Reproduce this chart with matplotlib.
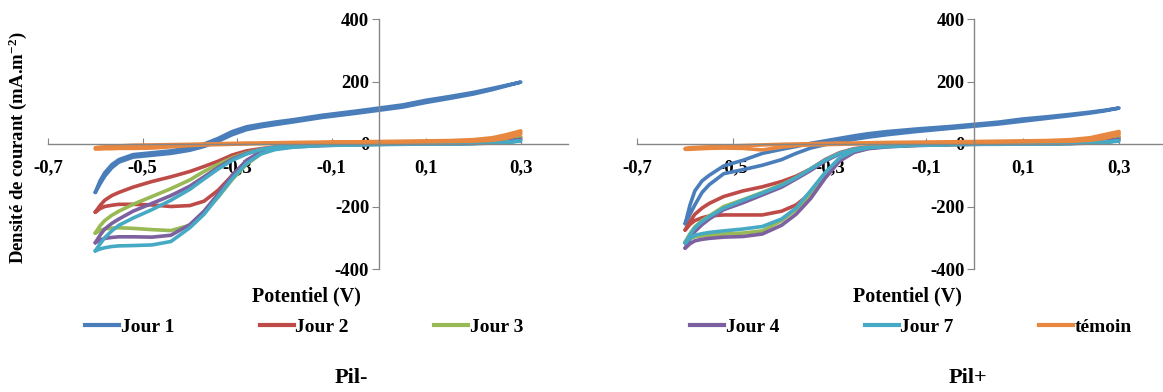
import matplotlib
matplotlib.use("Agg")
import matplotlib.pyplot as plt
from matplotlib.lines import Line2D

plt.rcParams['font.family'] = ['Liberation Serif', 'DejaVu Serif']
plt.rcParams['font.weight'] = 'bold'
plt.rcParams['mathtext.fontset'] = 'custom'
plt.rcParams['mathtext.rm'] = 'Liberation Serif:bold'
plt.rcParams['mathtext.it'] = 'Liberation Serif:bold'
plt.rcParams['mathtext.bf'] = 'Liberation Serif:bold'
plt.rcParams['mathtext.default'] = 'rm'

# ---------------- data ----------------
potential = [-0.60, -0.59, -0.58, -0.565, -0.55, -0.52, -0.48, -0.44, -0.40, -0.37, -0.34, -0.31,
             -0.28, -0.25, -0.22, -0.18, -0.12, -0.05, 0.00, 0.05, 0.10, 0.15,
             0.20, 0.24, 0.27, 0.30]

series_names = ['Jour 1', 'Jour 2', 'Jour 3', 'Jour 4', 'Jour 7', 'témoin']
series_colors = ['#4A7EBB', '#BE4B48', '#98B954', '#7D60A0', '#46AAC5', '#E8873F']

# Pil- : upper (a) and lower (b) branches of each voltammogram
pilm_j1_a = [-155, -118, -92, -66, -50, -34, -28, -22, -12, 0, 18, 40, 55, 63, 70, 78, 92, 105, 115, 125, 140, 152, 165, 178, 188, 198]
pilm_j1_b = [-155, -128, -103, -76, -58, -42, -36, -30, -20, -8, 9, 30, 46, 55, 62, 71, 85, 98, 108, 118, 133, 146, 160, 174, 186, 198]
pilm_j2_a = [-218, -197, -180, -165, -155, -138, -120, -105, -88, -72, -55, -35, -22, -15, -9, -5, -2, 0, 1, 2, 3, 4, 6, 9, 14, 22]
pilm_j2_b = [-218, -207, -200, -196, -193, -193, -195, -200, -197, -183, -148, -100, -55, -25, -12, -6, -3, -1, 0, 1, 2, 3, 4, 6, 10, 22]
pilm_j3_a = [-285, -262, -245, -228, -215, -193, -168, -143, -115, -88, -65, -44, -28, -17, -10, -6, -3, -1, 0, 1, 2, 3, 5, 8, 12, 20]
pilm_j3_b = [-285, -277, -272, -269, -268, -270, -274, -277, -260, -220, -170, -113, -65, -32, -15, -8, -4, -2, -1, 0, 1, 2, 3, 5, 9, 20]
pilm_j4_a = [-316, -292, -272, -254, -240, -215, -190, -165, -135, -105, -75, -48, -30, -18, -11, -6, -3, -1, 0, 1, 1, 2, 4, 6, 9, 15]
pilm_j4_b = [-316, -307, -302, -299, -297, -297, -298, -292, -258, -215, -160, -100, -52, -25, -14, -9, -5, -2, -1, 0, 0, 1, 2, 4, 7, 15]
pilm_j7_a = [-342, -320, -300, -278, -260, -237, -210, -180, -145, -112, -80, -52, -32, -18, -10, -6, -3, -1, 0, 0, 1, 1, 2, 4, 6, 10]
pilm_j7_b = [-342, -336, -332, -328, -326, -325, -323, -312, -268, -225, -168, -110, -62, -32, -18, -10, -5, -3, -2, -1, 0, 0, 1, 3, 5, 10]
pilm_tem_a = [-12, -10, -9, -7, -6, -4, -3, -2, -1, 0, 1, 2, 3, 3, 4, 5, 6, 7, 8, 9, 10, 11, 14, 20, 30, 42]
pilm_tem_b = [-16, -16, -15, -15, -14, -14, -13, -9, -5, -3, -2, -1, 0, 1, 2, 3, 4, 5, 6, 6, 7, 8, 9, 12, 18, 32]

# Pil+ : upper (a) and lower (b) branches
pilp_j1_a = [-255, -195, -150, -118, -100, -70, -52, -30, -17, -8, 2, 10, 18, 26, 33, 40, 48, 56, 63, 70, 80, 87, 95, 102, 108, 115]
pilp_j1_b = [-255, -225, -195, -155, -130, -95, -82, -68, -50, -30, -13, -2, 7, 15, 22, 30, 40, 50, 57, 64, 73, 82, 91, 99, 106, 115]
pilp_j2_a = [-275, -248, -225, -205, -190, -168, -150, -137, -120, -103, -80, -50, -28, -15, -9, -5, -2, 0, 1, 2, 3, 4, 6, 9, 14, 22]
pilp_j2_b = [-275, -257, -245, -236, -230, -227, -227, -227, -215, -195, -158, -100, -50, -25, -13, -7, -3, -1, 0, 1, 2, 3, 4, 6, 10, 22]
pilp_j3_a = [-313, -287, -265, -245, -230, -200, -178, -155, -130, -108, -80, -52, -30, -17, -10, -6, -3, -1, 0, 1, 2, 3, 5, 8, 12, 20]
pilp_j3_b = [-313, -303, -297, -294, -292, -288, -285, -278, -245, -210, -160, -100, -52, -25, -14, -8, -4, -2, -1, 0, 1, 2, 3, 5, 9, 20]
pilp_j4_a = [-333, -304, -280, -258, -240, -210, -188, -163, -138, -112, -85, -55, -32, -18, -11, -6, -3, -1, 0, 1, 1, 2, 4, 6, 9, 15]
pilp_j4_b = [-333, -319, -310, -305, -302, -298, -296, -288, -260, -225, -175, -110, -55, -27, -15, -9, -5, -2, -1, 0, 0, 1, 2, 4, 7, 15]
pilp_j7_a = [-317, -290, -268, -248, -232, -205, -180, -157, -132, -108, -80, -52, -30, -17, -10, -6, -3, -1, 0, 0, 1, 1, 2, 4, 6, 10]
pilp_j7_b = [-317, -302, -292, -287, -283, -278, -272, -264, -240, -205, -150, -92, -45, -22, -12, -8, -4, -2, -1, -1, 0, 0, 1, 3, 5, 10]
pilp_tem_a = [-14, -12, -11, -10, -9, -7, -5, -3, -1, 0, 1, 2, 3, 3, 4, 5, 6, 7, 8, 9, 10, 11, 14, 20, 30, 40]
pilp_tem_b = [-17, -17, -16, -15, -14, -13, -14, -19, -10, -5, -3, -2, -1, 0, 1, 2, 3, 4, 5, 6, 7, 8, 9, 12, 18, 30]

pilm_series = [(pilm_j1_a, pilm_j1_b), (pilm_j2_a, pilm_j2_b), (pilm_j3_a, pilm_j3_b),
               (pilm_j4_a, pilm_j4_b), (pilm_j7_a, pilm_j7_b), (pilm_tem_a, pilm_tem_b)]
pilp_series = [(pilp_j1_a, pilp_j1_b), (pilp_j2_a, pilp_j2_b), (pilp_j3_a, pilp_j3_b),
               (pilp_j4_a, pilp_j4_b), (pilp_j7_a, pilp_j7_b), (pilp_tem_a, pilp_tem_b)]

x_ticks = [-0.7, -0.5, -0.3, -0.1, 0.1, 0.3]
x_tick_labels = ['-0,7', '-0,5', '-0,3', '-0,1', '0,1', '0,3']
y_ticks = [-400, -200, 0, 200, 400]
y_tick_labels = ['-400', '-200', '0', '200', '400']
panel_titles = ['Pil-', 'Pil+']
x_title = 'Potentiel (V)'
y_title = 'Densité de courant (mA.m$^{-2}$)'

# ---------------- figure ----------------
W, H = 1163, 392
fig = plt.figure(figsize=(W / 100, H / 100), dpi=100)

def fx(px):
    return px / W

def fy(py):
    return 1 - py / H

axis_gray = '#868686'
TICK_FS = 13.5

def setup(ax, xmax):
    ax.set_xlim(-0.7, xmax)
    ax.set_ylim(-400, 400)
    for s in ['top', 'right']:
        ax.spines[s].set_visible(False)
    ax.spines['left'].set_position(('data', 0))
    ax.spines['bottom'].set_position(('data', 0))
    for s in ['left', 'bottom']:
        ax.spines[s].set_color(axis_gray)
        ax.spines[s].set_linewidth(1.0)
    ax.set_xticks(x_ticks)
    ax.set_xticklabels(x_tick_labels)
    ax.set_yticks(y_ticks)
    ax.set_yticklabels(y_tick_labels)
    ax.tick_params(axis='x', direction='in', length=4, color=axis_gray, pad=11,
                   labelsize=TICK_FS)
    ax.tick_params(axis='y', direction='out', length=5, color=axis_gray, pad=2,
                   labelsize=TICK_FS)
    for lab in ax.get_xticklabels() + ax.get_yticklabels():
        lab.set_fontweight('bold')
    ax.patch.set_alpha(0)

def draw(ax, series):
    for (a, b), c in zip(series, series_colors):
        xs = potential + potential[::-1]
        ys = b + a[::-1]
        ax.plot(xs, ys, color=c, lw=2.6, solid_joinstyle='round',
                solid_capstyle='round', clip_on=False)

bottom = fy(269)
height = (269 - 19) / H

axL = fig.add_axes([fx(48), bottom, fx(520), height])
setup(axL, 0.4)
draw(axL, pilm_series)

axR = fig.add_axes([fx(637), bottom, fx(1163 - 637), height])
setup(axR, -0.7 + (1163 - 637) / 482.0)
draw(axR, pilp_series)

# axis titles
fig.text(fx(18), fy(148), y_title, rotation=90,
         ha='center', va='center', fontsize=13.5, fontweight='bold')
fig.text(fx(306), fy(296), x_title, ha='center', va='center',
         fontsize=14.5, fontweight='bold')
fig.text(fx(907), fy(296), x_title, ha='center', va='center',
         fontsize=14.5, fontweight='bold')

# legends
def make_legend(idx, x0):
    handles = [Line2D([0], [0], color=series_colors[i], lw=3) for i in idx]
    labels = [series_names[i] for i in idx]
    leg = fig.legend(handles, labels, loc='center left',
                     bbox_to_anchor=(fx(x0), fy(327)), ncol=3, frameon=False,
                     handlelength=1.75, handletextpad=0.08, columnspacing=4.4,
                     borderpad=0, borderaxespad=0,
                     prop={'family': 'Liberation Serif', 'weight': 'bold', 'size': 14})
    return leg

make_legend([0, 1, 2], 85)
make_legend([3, 4, 5], 690)

fig.text(fx(351), fy(378), panel_titles[0], ha='center', va='center',
         fontsize=16, fontweight='bold')
fig.text(fx(968), fy(378), panel_titles[1], ha='center', va='center',
         fontsize=16, fontweight='bold')

fig.savefig('out.png', dpi=100)
